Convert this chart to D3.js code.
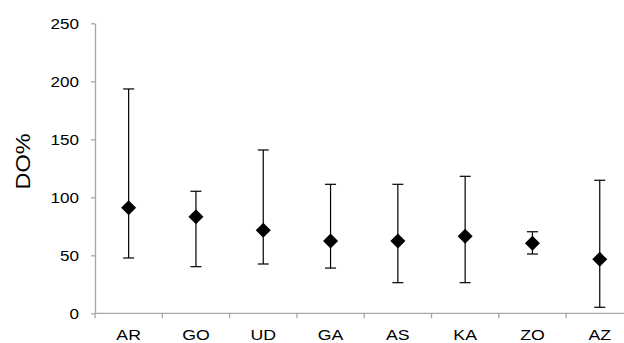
<!DOCTYPE html>
<html>
<head>
<meta charset="utf-8">
<script src="https://cdn.jsdelivr.net/npm/d3@7/dist/d3.min.js"></script>
<style>
  html, body { margin: 0; padding: 0; background: #fff; }
  svg { display: block; }
  text { font-family: "Liberation Sans", Arial, sans-serif; fill: #000; }
</style>
</head>
<body>
<svg id="chart" width="624" height="343"></svg>
<script>
const categories = ["AR", "GO", "UD", "GA", "AS", "KA", "ZO", "AZ"];
const means = [91, 83.3, 71.5, 62.3, 62.3, 66.4, 60.3, 46.5];
const upper = [193.4, 105.2, 140.8, 111.2, 111.2, 118.1, 70.3, 114.7];
const lower = [47.7, 40.2, 42.5, 39, 26.4, 26.4, 51.1, 5.2];
const yTicks = [0, 50, 100, 150, 200, 250];
const yLabel = "DO%";

const svg = d3.select("#chart");
const x0 = 95, bandW = 67.3;
const x = d3.scaleBand().domain(categories).range([x0, x0 + bandW * categories.length]).padding(0);
const y = d3.scaleLinear().domain([0, 250]).range([313.3, 23.3]);
const axisColor = "#a6a6a6";

// Y axis
const yAxis = svg.append("g").attr("transform", `translate(${x0},0)`)
  .call(d3.axisLeft(y).tickValues(yTicks).tickSize(4).tickSizeOuter(0).tickPadding(12));
yAxis.select(".domain").attr("stroke", axisColor).attr("stroke-width", 1.3);
yAxis.selectAll(".tick line").attr("stroke", axisColor).attr("stroke-width", 1.3);
yAxis.selectAll(".tick text")
  .attr("font-size", 15.5)
  .attr("font-family", "Liberation Sans, Arial, sans-serif")
  .attr("fill", "#000")
  .attr("text-anchor", "end")
  .attr("transform", "translate(-16,0) scale(1.1,1) translate(16,0)");

// X axis
const xAxisG = svg.append("g").attr("transform", `translate(0,${y(0)})`);
xAxisG.append("line").attr("x1", x0).attr("x2", 624).attr("y1", 0).attr("y2", 0)
  .attr("stroke", axisColor).attr("stroke-width", 1.3);
xAxisG.selectAll("line.tk").data(categories).enter().append("line").attr("class", "tk")
  .attr("x1", d => x(d)).attr("x2", d => x(d)).attr("y1", 0).attr("y2", 5)
  .attr("stroke", axisColor).attr("stroke-width", 1.3);
xAxisG.selectAll("text").data(categories).enter().append("text")
  .attr("transform", d => `translate(${x(d) + x.bandwidth() / 2},26.5) scale(1.18,1)`)
  .attr("text-anchor", "middle")
  .attr("font-size", 15)
  .text(d => d);

// Y label
svg.append("text")
  .attr("transform", `translate(30,161.5) rotate(-90) scale(1.12,1)`)
  .attr("text-anchor", "middle")
  .attr("font-size", 21)
  .text(yLabel);

// Error bars
const data = categories.map((c, i) => ({ c, m: means[i], hi: upper[i], lo: lower[i] }));
const cx = d => x(d.c) + x.bandwidth() / 2;
const capW = 5.5;
const g = svg.append("g");
g.selectAll("line.v").data(data).enter().append("line")
  .attr("x1", cx).attr("x2", cx).attr("y1", d => y(d.hi)).attr("y2", d => y(d.lo))
  .attr("stroke", "#000").attr("stroke-width", 1.2);
g.selectAll("line.ch").data(data).enter().append("line")
  .attr("x1", d => cx(d) - capW).attr("x2", d => cx(d) + capW)
  .attr("y1", d => y(d.hi)).attr("y2", d => y(d.hi))
  .attr("stroke", "#000").attr("stroke-width", 1.2);
g.selectAll("line.cl").data(data).enter().append("line")
  .attr("x1", d => cx(d) - capW).attr("x2", d => cx(d) + capW)
  .attr("y1", d => y(d.lo)).attr("y2", d => y(d.lo))
  .attr("stroke", "#000").attr("stroke-width", 1.2);

// Diamonds
const hw = 7.5, hh = 7.5;
g.selectAll("path.dm").data(data).enter().append("path")
  .attr("d", d => {
    const px = cx(d), py = y(d.m);
    return `M${px},${py - hh}L${px + hw},${py}L${px},${py + hh}L${px - hw},${py}Z`;
  })
  .attr("fill", "#000");
</script>
</body>
</html>
